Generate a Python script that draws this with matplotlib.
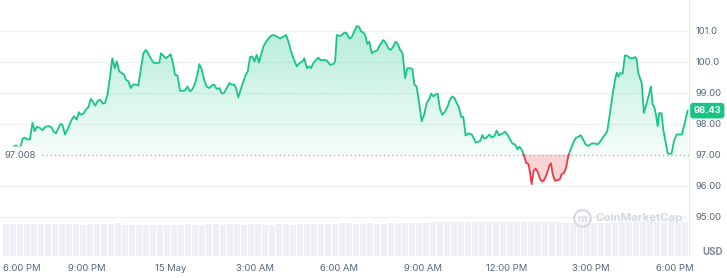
import numpy as np
import matplotlib
matplotlib.use("Agg")
import matplotlib.pyplot as plt
from matplotlib.path import Path
from matplotlib.lines import Line2D

plt.rcParams['font.family'] = ['Inter', 'DejaVu Sans']

# hours after 6:00 PM (14 May) and price in USD
hours = [0.00, 0.37, 0.46, 0.55, 0.63, 0.70, 0.79, 0.85, 0.96, 1.05, 1.13, 1.20, 1.30, 1.42, 1.50,
         1.65, 1.74, 1.80, 1.89, 1.98, 2.06, 2.13, 2.21, 2.33, 2.45, 2.54, 2.63, 2.71, 2.77, 2.87,
         2.96, 3.05, 3.13, 3.20, 3.29, 3.37, 3.46, 3.56, 3.64, 3.73, 3.82, 3.90, 3.99, 4.06, 4.15,
         4.24, 4.32, 4.39, 4.48, 4.56, 4.65, 4.75, 4.83, 4.92, 5.01, 5.10, 5.18, 5.27, 5.37, 5.49,
         5.58, 5.64, 5.73, 5.82, 5.90, 5.99, 6.08, 6.14, 6.23, 6.32, 6.44, 6.51, 6.58, 6.68, 6.77,
         6.86, 6.94, 7.01, 7.10, 7.18, 7.27, 7.37, 7.45, 7.54, 7.63, 7.73, 7.81, 7.89, 7.99, 8.08,
         8.17, 8.25, 8.32, 8.40, 8.49, 8.58, 8.67, 8.74, 8.82, 8.90, 8.98, 9.06, 9.14, 9.21, 9.30,
         9.38, 9.48, 9.56, 9.65, 9.75, 9.89, 10.01, 10.11, 10.19, 10.27, 10.37, 10.49, 10.58, 10.70,
         10.76, 10.85, 10.93, 11.00, 11.08, 11.18, 11.26, 11.35, 11.44, 11.56, 11.68, 11.80, 11.86,
         11.92, 12.01, 12.10, 12.19, 12.27, 12.36, 12.45, 12.54, 12.63, 12.71, 12.79, 12.87, 12.95,
         13.01, 13.08, 13.17, 13.25, 13.35, 13.46, 13.58, 13.68, 13.76, 13.85, 13.94, 14.02, 14.10,
         14.18, 14.27, 14.36, 14.44, 14.54, 14.62, 14.69, 14.77, 14.86, 14.95, 15.04, 15.13, 15.21,
         15.29, 15.37, 15.45, 15.52, 15.61, 15.69, 15.79, 15.88, 15.96, 16.05, 16.12, 16.20, 16.29,
         16.36, 16.44, 16.52, 16.62, 16.74, 16.80, 16.88, 16.98, 17.04, 17.12, 17.18, 17.27, 17.37,
         17.45, 17.55, 17.63, 17.71, 17.85, 17.93, 18.01, 18.11, 18.19, 18.29, 18.37, 18.44, 18.52,
         18.61, 18.68, 18.77, 18.82, 18.88, 18.95, 19.02, 19.10, 19.18, 19.26, 19.33, 19.42, 19.51,
         19.57, 19.63, 19.71, 19.81, 19.89, 19.95, 20.04, 20.11, 20.19, 20.27, 20.37, 20.46, 20.55,
         20.63, 20.73, 20.81, 20.90, 21.02, 21.14, 21.24, 21.32, 21.42, 21.50, 21.58, 21.68, 21.76,
         21.86, 21.92, 21.98, 22.04, 22.13, 22.21, 22.30, 22.39, 22.49, 22.57, 22.63, 22.69, 22.75,
         22.81, 22.89, 22.99, 23.07, 23.14, 23.20, 23.26, 23.32, 23.38, 23.44, 23.52, 23.58, 23.68,
         23.74, 23.82, 23.88, 23.96, 24.06, 24.15, 24.24, 24.32, 24.39, 24.45]
price = [97.04, 97.27, 97.31, 97.24, 97.29, 97.53, 97.56, 97.50, 97.50, 98.04, 97.77, 97.91, 97.88, 97.80, 97.91,
         97.93, 97.88, 97.75, 97.70, 97.88, 98.01, 97.95, 97.66, 97.88, 98.14, 98.25, 98.14, 98.38, 98.30, 98.33,
         98.47, 98.55, 98.81, 98.73, 98.59, 98.73, 98.79, 98.66, 98.68, 98.95, 99.53, 100.12, 99.80, 100.02, 99.70,
         99.64, 99.59, 99.43, 99.37, 99.16, 99.27, 99.27, 99.24, 99.75, 100.28, 100.39, 100.28, 100.12, 99.98, 99.96,
         99.98, 100.28, 100.20, 100.12, 100.18, 100.25, 99.91, 99.59, 99.56, 99.07, 99.07, 99.09, 99.21, 99.05, 99.13,
         99.32, 99.59, 99.93, 99.75, 99.43, 99.21, 99.16, 99.24, 99.27, 99.13, 99.16, 98.98, 99.00, 99.16, 99.32,
         99.27, 99.27, 99.16, 98.86, 99.11, 99.37, 99.59, 99.70, 100.16, 100.18, 100.02, 100.23, 99.98, 100.23, 100.50,
         100.63, 100.76, 100.84, 100.87, 100.84, 100.76, 100.82, 100.87, 100.66, 100.39, 100.12, 99.86, 99.96, 100.02,
         100.12, 99.80, 99.86, 99.80, 99.96, 100.07, 100.14, 100.05, 100.07, 100.05, 99.91, 99.93, 100.02,
         100.87, 100.84, 100.87, 100.95, 100.93, 100.76, 100.80, 100.98, 101.16, 101.14, 100.98, 100.96, 100.82,
         100.58, 100.66, 100.28, 100.34, 100.36, 100.55, 100.71, 100.60, 100.44, 100.39, 100.50, 100.66, 100.58,
         100.39, 100.28, 99.48, 99.80, 99.80, 99.77, 99.27, 99.21, 98.68, 98.09, 98.30, 98.68, 98.79,
         98.98, 98.89, 98.95, 98.98, 98.47, 98.30, 98.41, 98.57, 98.79, 98.89, 98.84, 98.68, 98.52,
         98.23, 98.22, 97.63, 97.70, 97.66, 97.56, 97.40, 97.43, 97.45, 97.64, 97.53, 97.56, 97.66,
         97.56, 97.61, 97.79, 97.63, 97.70, 97.75, 97.66, 97.50, 97.37, 97.34, 97.18, 97.27, 97.18,
         96.97, 96.75, 96.70, 96.43, 96.06, 96.49, 96.56, 96.45, 96.22, 96.14, 96.20, 96.38, 96.65,
         96.73, 96.38, 96.17, 96.19, 96.22, 96.38, 96.43, 96.59, 96.97, 97.18, 97.40, 97.55, 97.59,
         97.64, 97.47, 97.34, 97.29, 97.37, 97.37, 97.34, 97.42, 97.56, 97.66, 97.77, 98.36, 98.89,
         99.43, 99.66, 99.53, 99.64, 99.62, 100.21, 100.20, 100.12, 100.12, 100.16, 100.09, 99.64, 99.48,
         99.32, 98.36, 98.68, 98.95, 99.21, 98.63, 98.55, 98.30, 97.93, 98.36, 98.34, 97.82, 97.34,
         97.05, 97.04, 97.05, 97.45, 97.66, 97.66, 97.66, 97.93, 98.20, 98.43]

# volume, one bar per 15 minutes (relative units)
volume = [3.18, 3.20, 3.17, 3.19, 3.21, 3.18, 3.16, 3.19, 3.20, 3.18, 3.17, 3.15, 3.18, 3.19, 3.16, 3.20,
          3.28, 3.12, 3.10, 3.11, 3.09, 3.10, 3.12, 3.11, 3.10, 3.15, 3.16, 3.14, 3.15, 3.17, 3.16, 3.15,
          3.18, 3.16, 3.15, 3.17, 3.16, 3.14, 3.15, 3.17, 3.16, 3.15, 3.16, 3.18, 3.17, 3.16, 3.20, 3.24,
          3.30, 3.27, 3.25, 3.24, 3.26, 3.25, 3.24, 3.26, 3.25, 3.27, 3.26, 3.28, 3.32, 3.38, 3.40, 3.39,
          3.41, 3.40, 3.39, 3.41, 3.40, 3.42, 3.40, 3.39, 3.41, 3.40, 3.42, 3.41, 3.40, 3.39, 3.38, 3.36,
          3.33, 3.30, 3.28, 3.27, 3.28, 3.29, 3.30, 3.32, 3.36, 3.42, 3.44, 3.45, 3.46, 3.44, 3.45, 3.46,
          3.44, 3.45]
vol_hours = [0.25 * i for i in range(len(volume))]

base_price = 97.008
last_price = 98.43
ytick_vals = [95, 96, 97, 98, 99, 100, 101]
ytick_text = ["95.00", "96.00", "97.00", "98.00", "99.00", "100.0", "101.0"]
xtick_vals = [0, 3, 6, 9, 12, 15, 18, 21, 24]
xtick_text = ["6:00 PM", "9:00 PM", "15 May", "3:00 AM", "6:00 AM", "9:00 AM",
              "12:00 PM", "3:00 PM", "6:00 PM"]

GREEN = "#16c784"
RED = "#ea3943"
GREY_TXT = "#58667e"
GRID = "#eff2f5"

t = np.array(hours)
p = np.array(price)

# insert crossing points with the base line so the colours split cleanly
tt, pp = [t[0]], [p[0]]
for i in range(len(t) - 1):
    a, b = p[i] - base_price, p[i + 1] - base_price
    if a * b < 0:
        tc = t[i] + (base_price - p[i]) * (t[i + 1] - t[i]) / (p[i + 1] - p[i])
        tt.append(tc)
        pp.append(base_price)
    tt.append(t[i + 1])
    pp.append(p[i + 1])
tt = np.array(tt)
pp = np.array(pp)

fig = plt.figure(figsize=(7.27, 2.78), dpi=100)
ax = fig.add_axes([0, 22 / 278, 689 / 727, 256 / 278])

xmin, xmax = -0.11, 24.5
ymin, ymax = 93.74, 102.0
ax.set_xlim(xmin, xmax)
ax.set_ylim(ymin, ymax)

# volume bars on a twin axis
ax2 = ax.twinx()
ax2.set_ylim(0, 25.6)
ax2.bar(vol_hours, volume, width=0.2, align='edge', color="#eef0f3", linewidth=0, zorder=1)
ax2.axis('off')
ax.set_zorder(ax2.get_zorder() + 1)
ax.patch.set_visible(False)

for v in ytick_vals:
    if v != 97:
        ax.axhline(v, color=GRID, lw=1, zorder=0)

# green gradient fill above base
up = np.where(pp >= base_price, pp, np.nan)
dn = np.where(pp <= base_price, pp, np.nan)
fg = ax.fill_between(tt, pp, base_price, where=pp >= base_price, facecolor='none',
                     edgecolor='none', interpolate=True)
clip = Path.make_compound_path(*fg.get_paths())
grad = np.linspace(0.04, 0.32, 256).reshape(-1, 1)
rgba = np.zeros((256, 1, 4))
rgba[..., :3] = matplotlib.colors.to_rgb(GREEN)
rgba[..., 3] = grad
im = ax.imshow(rgba, extent=[xmin, xmax, base_price, max(price)], origin='lower',
               aspect='auto', zorder=2, interpolation='bilinear')
im.set_clip_path(clip, transform=ax.transData)

ax.fill_between(tt, pp, base_price, where=pp <= base_price, facecolor=RED, alpha=0.22,
                edgecolor='none', interpolate=True, zorder=2)

ax.plot(tt, up, color=GREEN, lw=1.3, zorder=4, solid_joinstyle='round')
ax.plot(tt, dn, color=RED, lw=1.3, zorder=4, solid_joinstyle='round')

# dotted base line and its label
ax.axhline(base_price, color="#a6b0c3", lw=1, linestyle=(0, (1, 2)), zorder=3)
ax.text(0.06, base_price - 0.03, "97.008", fontsize=6.8, color=GREY_TXT, ha='left', va='center', zorder=5,
        bbox=dict(boxstyle='round,pad=0.5', fc='white', ec='none'))

# axes styling
for s in ['left', 'top', 'bottom']:
    ax.spines[s].set_visible(False)
ax.spines['right'].set_color("#e6e9ee")
ax.yaxis.tick_right()
ax.set_yticks(ytick_vals)
ax.set_yticklabels(ytick_text)
ax.tick_params(axis='y', length=0, pad=5, labelsize=6.8, labelcolor=GREY_TXT)
ax.set_xticks(xtick_vals)
ax.set_xticklabels(xtick_text)
ax.tick_params(axis='x', length=0, pad=6, labelsize=6.8, labelcolor=GREY_TXT)
ax.get_xticklabels()[0].set_horizontalalignment('left')

# current price tag
ax.text(1.0065, last_price, f"{last_price:.2f}", transform=ax.get_yaxis_transform(),
        fontsize=6.8, color='white', fontweight='bold', ha='left', va='center', clip_on=False,
        zorder=6, bbox=dict(boxstyle='round,pad=0.35', fc=GREEN, ec='none'))

fig.text(702 / 727, 1 - 252 / 278, "USD", fontsize=7, color="#808a9d", fontweight='bold',
         ha='left', va='center')

# watermark
wm = "#d5dae2"
fig.add_artist(Line2D([582 / 727], [1 - 218 / 278], marker='o', ms=12, mfc='none', mec=wm, mew=1.5,
                      transform=fig.transFigure))
fig.text(582 / 727, 1 - 218.5 / 278, "m", fontsize=7.5, color=wm, fontweight='bold', ha='center', va='center')
fig.text(596 / 727, 1 - 218 / 278, "CoinMarketCap", fontsize=8.2, color=wm, fontweight='bold',
         ha='left', va='center')

fig.savefig("out.png", dpi=100)
